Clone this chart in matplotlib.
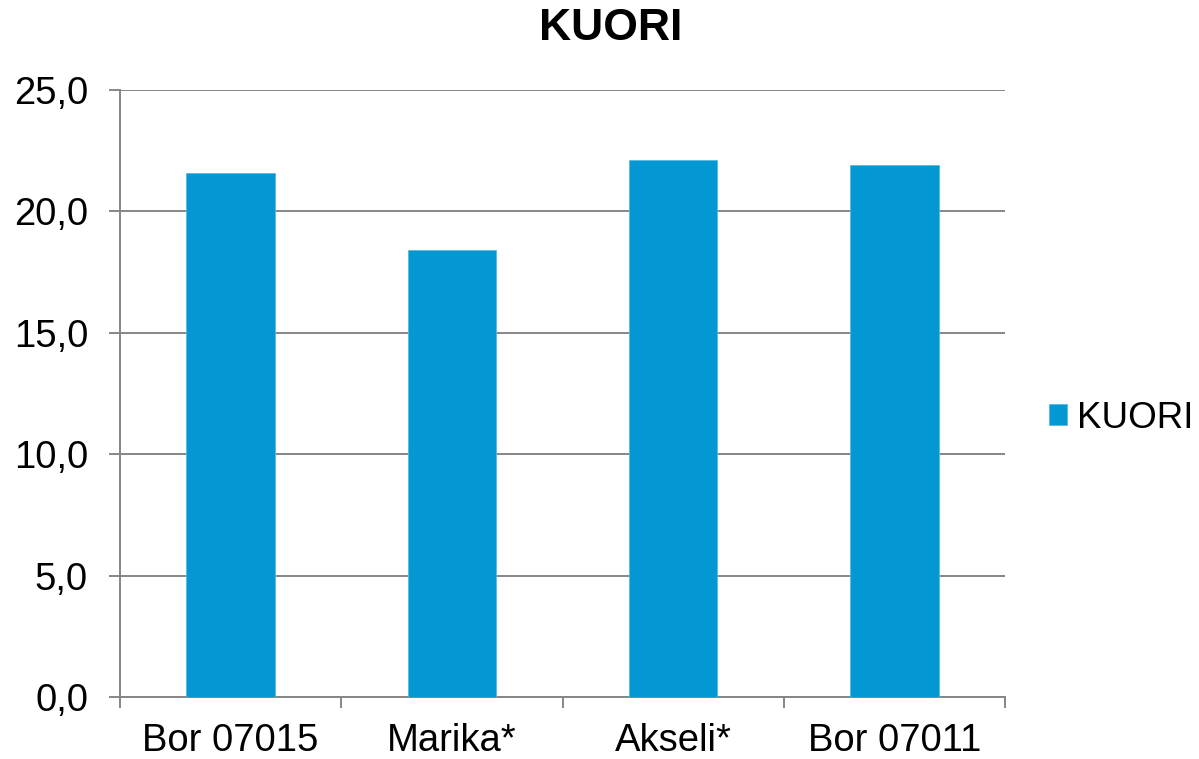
import matplotlib
matplotlib.use("Agg")
import matplotlib.pyplot as plt
from matplotlib.ticker import FuncFormatter, FixedLocator

plt.rcParams['font.family'] = ['Liberation Sans', 'DejaVu Sans']

categories = ["Bor 07015", "Marika*", "Akseli*", "Bor 07011"]
kuori = [21.6, 18.4, 22.1, 21.9]
yticks = [0, 5, 10, 15, 20, 25]

BAR = '#0398D3'
GRID = '#868686'

fig = plt.figure(figsize=(11.99, 7.59), dpi=100)
ax = fig.add_axes([120/1199, 1-697/759, 885/1199, 607/759])

x = list(range(len(categories)))
ax.bar(x, kuori, width=0.4, color=BAR, edgecolor='#5BB8E0', linewidth=0.6,
       label="KUORI", zorder=3)

ax.set_xlim(-0.5, len(categories) - 0.5)
ax.set_ylim(0, 25)
ax.set_yticks(yticks)
ax.yaxis.set_major_formatter(FuncFormatter(lambda v, p: f"{v:.1f}".replace('.', ',')))
ax.grid(axis='y', color=GRID, linewidth=1.4, zorder=0)

ax.set_xticks(x)
ax.set_xticklabels(categories)
ax.xaxis.set_minor_locator(FixedLocator([i - 0.5 for i in range(len(categories) + 1)]))
ax.tick_params(axis='x', which='major', length=0, pad=19, labelsize=27.5)
ax.tick_params(axis='x', which='minor', length=8, width=1.4, color=GRID)
ax.tick_params(axis='y', length=8, width=1.4, color=GRID, pad=15, labelsize=27.5)

for s in ['top', 'right']:
    ax.spines[s].set_visible(False)
for s in ['left', 'bottom']:
    ax.spines[s].set_color(GRID)
    ax.spines[s].set_linewidth(1.4)

fig.text(611/1199, 1-28/759, "KUORI", ha='center', va='center',
         fontsize=32, fontweight='bold')

fig.legend(loc='center left', bbox_to_anchor=(1049/1199, 1-418/759),
           frameon=False, fontsize=26.5, handlelength=0.5, handleheight=0.5,
           handletextpad=0.25, borderaxespad=0, borderpad=0)

plt.savefig("out.png", dpi=100)
